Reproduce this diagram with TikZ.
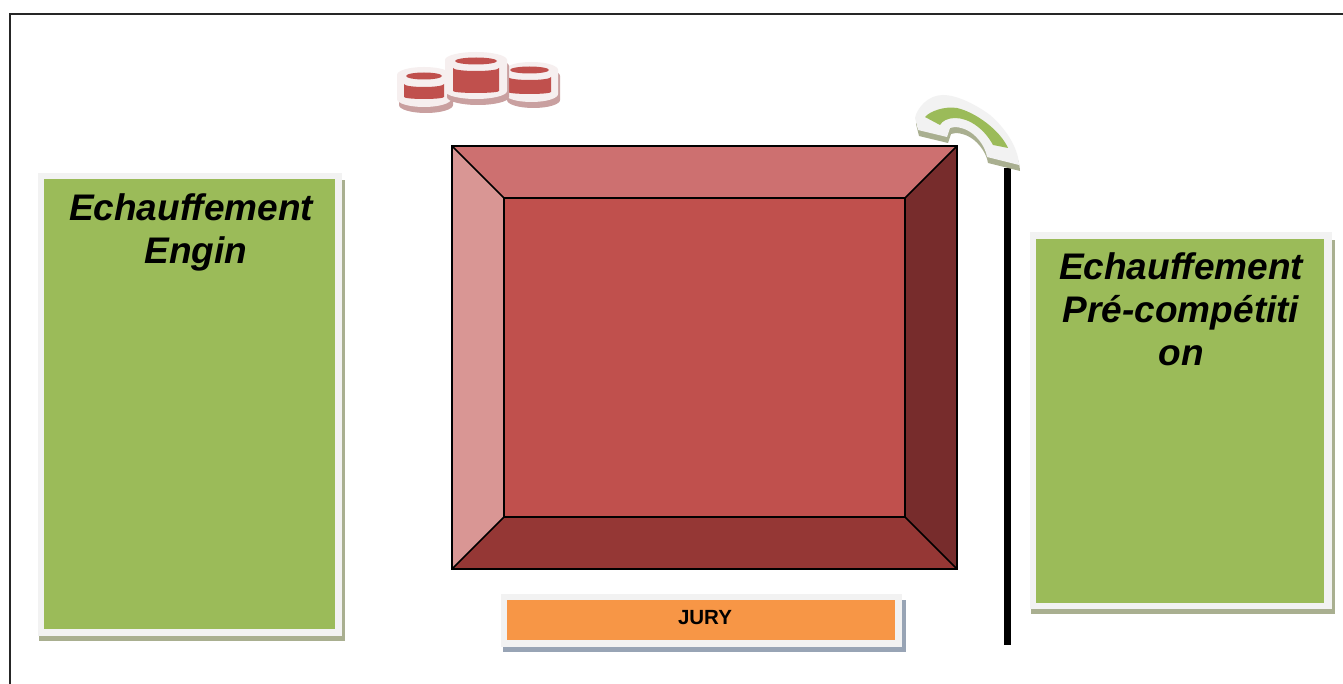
\documentclass[tikz,border=0pt]{standalone}
\usepackage{fontspec}
\setmainfont{Liberation Sans}
\definecolor{greenfill}{HTML}{9BBB59}
\definecolor{orangefill}{HTML}{F79646}
\definecolor{redfill}{HTML}{C0504D}
\definecolor{beveltop}{HTML}{CD7070}
\definecolor{bevelleft}{HTML}{D99694}
\definecolor{bevelright}{HTML}{772C2C}
\definecolor{bevelbottom}{HTML}{953735}
\definecolor{rim}{HTML}{F2F2F2}
\definecolor{greenshadow}{HTML}{A9AF90}
\definecolor{blueshadow}{HTML}{98A4B5}
\definecolor{redshadow}{HTML}{C9A0A0}
\definecolor{cylrim}{HTML}{F6EFEF}
\tikzset{
  x=1pt,y=-1pt,
  boxlabel/.style={font=\fontsize{37}{43}\selectfont\bfseries\itshape,align=center,text=black,inner sep=0pt},
  jurylabel/.style={font=\fontsize{20.5}{24}\selectfont\bfseries,text=black,inner sep=0pt},
  bevelline/.style={draw=black,line width=1.6pt,line join=miter},
}
\newcommand{\cylshape}[4]{(#1,#2+8) arc[start angle=180,end angle=0,x radius={(#3-#1)/2},y radius=-8] -- (#3,#4-8) arc[start angle=0,end angle=-180,x radius={(#3-#1)/2},y radius=-8] -- cycle}
\newcommand{\cylinder}[9]{%
  \fill[redshadow,shift={(2,6)}] \cylshape{#1}{#2}{#3}{#4};
  \fill[cylrim] \cylshape{#1}{#2}{#3}{#4};
  \fill[redfill] (#5,#7) arc[start angle=180,end angle=0,x radius={(#6-#5)/2},y radius=3] -- (#6,#8-2) arc[start angle=0,end angle=180,x radius={(#6-#5)/2},y radius=2] -- cycle;
  \fill[redfill] ({(#5+#6)/2},#9) ellipse[x radius={(#6-#5)/2-2},y radius=3.5];
}
\begin{document}
\begin{tikzpicture}
\useasboundingbox (0,0) rectangle (1343,684);
\fill[white] (0,0) rectangle (1343,684);
% frame
\draw[black!85,line width=2pt] (10,684) -- (10,14) -- (1343,14);
% left box
\fill[greenshadow] (39,180) rectangle (345,641);
\fill[rim] (38,173) rectangle (342,636);
\fill[greenfill] (44,179) rectangle (335,629);
\node[boxlabel,anchor=north] (engin) at (191,193) {Echauffement\\\hspace*{10pt}Engin};
% right box
\fill[greenshadow] (1031,240) rectangle (1335,614);
\fill[rim] (1030,232) rectangle (1332,609);
\fill[greenfill] (1036,239) rectangle (1324,603);
\node[boxlabel,anchor=north] (precomp) at (1181,252) {Echauffement\\Pré-compétiti\\on};
% jury
\fill[blueshadow] (503,600) rectangle (906,652);
\fill[rim] (501,594) rectangle (902,647);
\fill[orangefill] (507,600) rectangle (895,640);
\node[jurylabel] (jury) at (705,618) {JURY};
% bevel
\fill[beveltop] (452,146) -- (957,146) -- (905,198) -- (504,198) -- cycle;
\fill[bevelleft] (452,146) -- (504,198) -- (504,517) -- (452,569) -- cycle;
\fill[bevelright] (957,146) -- (957,569) -- (905,517) -- (905,198) -- cycle;
\fill[bevelbottom] (452,569) -- (504,517) -- (905,517) -- (957,569) -- cycle;
\fill[redfill] (504,198) rectangle (905,517);
\draw[bevelline] (452,146) rectangle (957,569);
\draw[bevelline] (504,198) rectangle (905,517);
\draw[bevelline] (452,146) -- (504,198) (957,146) -- (905,198) (452,569) -- (504,517) (957,569) -- (905,517);
% pole
\fill[black] (1004,168) rectangle (1010.5,645);
% arc symbol
\newcommand{\arcouter}{(915,118) .. controls (917,108) and (928,95) .. (943,95) .. controls (958,95) and (978,106) .. (990,115) .. controls (1004,127) and (1018,146) .. (1019,165) -- (987,157) .. controls (986,148) and (975,128) .. (955,127) -- (950,128) -- (947,137) -- (918,130) -- cycle}
\fill[greenshadow,shift={(1,6)}] \arcouter;
\fill[rim] \arcouter;
\fill[greenfill] (925,117) .. controls (930,111) and (945,106) .. (957,108) .. controls (975,112) and (1000,130) .. (1008,148) -- (993,145) .. controls (985,130) and (970,118) .. (955,118) .. controls (948,118) and (942,121) .. (940,125) -- cycle;
% cylinders
\cylinder{397}{67}{451}{107}{404}{444}{84}{99}{76}
\cylinder{505}{62}{558}{102}{508}{551}{77}{94}{70}
\cylinder{445}{52}{507}{99}{453}{499}{68}{93}{61}
\end{tikzpicture}
\end{document}
